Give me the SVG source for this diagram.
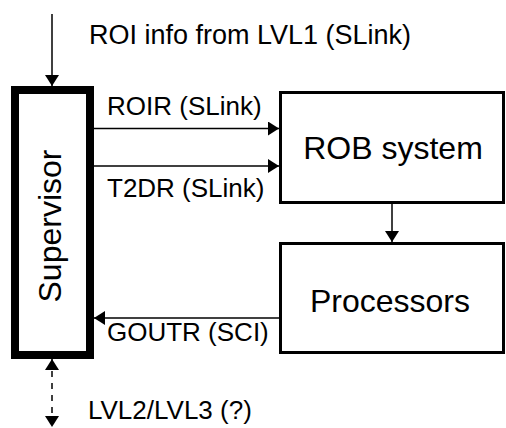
<svg xmlns="http://www.w3.org/2000/svg" width="506" height="428" viewBox="0 0 506 428">
  <style>
    .box { fill: #ffffff; stroke: #000000; stroke-width: 3; }
    .sup { fill: #ffffff; stroke: #000000; stroke-width: 8; }
    .lbl { font-family: "Liberation Sans", Arial, sans-serif; font-size: 26px; fill: #000000; }
    .top { font-size: 27px; }
    .big { font-family: "Liberation Sans", Arial, sans-serif; font-size: 32px; fill: #000000; }
    .wire { stroke: #000000; stroke-width: 1.5; fill: none; }
    .dash { stroke-dasharray: 6 6; }
  </style>
  <defs>
    <marker id="head" viewBox="0 0 11 14" refX="11" refY="7" markerWidth="11" markerHeight="14" markerUnits="userSpaceOnUse" orient="auto-start-reverse">
      <path d="M0,0 L11,7 L0,14 z" fill="#000000"/>
    </marker>
  </defs>

  <rect width="506" height="428" fill="#ffffff"/>

  <!-- connectors -->
  <g id="connectors">
    <line class="wire" x1="52" y1="14" x2="52" y2="86" marker-end="url(#head)"/>
    <line class="wire" x1="94" y1="128.5" x2="279" y2="128.5" marker-end="url(#head)"/>
    <line class="wire" x1="94" y1="166" x2="279" y2="166" marker-end="url(#head)"/>
    <line class="wire" x1="392" y1="204" x2="392" y2="242" marker-end="url(#head)"/>
    <line class="wire" x1="279" y1="318" x2="94" y2="318" marker-end="url(#head)"/>
    <line class="wire dash" x1="52" y1="359" x2="52" y2="427" marker-start="url(#head)" marker-end="url(#head)"/>
    <text class="lbl top" x="89" y="44">ROI info from LVL1 (SLink)</text>
    <text class="lbl" x="107" y="115">ROIR (SLink)</text>
    <text class="lbl" x="107" y="197">T2DR (SLink)</text>
    <text class="lbl" x="107" y="341">GOUTR (SCI)</text>
    <text class="lbl" x="88" y="419">LVL2/LVL3 (?)</text>
  </g>

  <!-- Supervisor -->
  <g id="supervisor">
    <rect class="sup" x="15" y="90" width="75" height="265"/>
    <text class="big" text-anchor="middle" transform="translate(61,226) rotate(-90)">Supervisor</text>
  </g>

  <!-- ROB system -->
  <g id="rob-system">
    <rect class="box" x="280.5" y="92.5" width="223" height="110"/>
    <text class="big" x="393" y="159" text-anchor="middle">ROB system</text>
  </g>

  <!-- Processors -->
  <g id="processors">
    <rect class="box" x="280.5" y="243.5" width="223" height="109"/>
    <text class="big" x="390" y="312" text-anchor="middle">Processors</text>
  </g>
</svg>
